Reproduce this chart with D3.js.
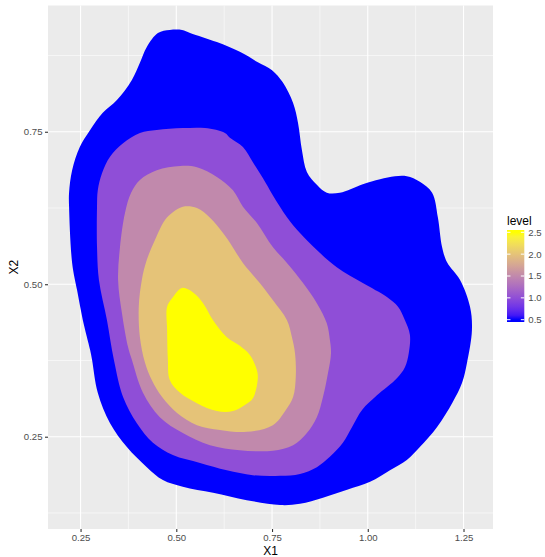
<!DOCTYPE html>
<html>
<head>
<meta charset="utf-8">
<script src="https://cdn.jsdelivr.net/npm/d3@7"></script>
<style>
  html, body { margin: 0; padding: 0; background: #ffffff; }
  svg { display: block; font-family: "Liberation Sans", Arial, Helvetica, sans-serif; }
</style>
</head>
<body>
<svg id="chart" width="545" height="557"></svg>
<script>
// Density contour levels and their polygons, as [X1, X2] vertices
const levels = [0.5, 1.0, 1.5, 2.0, 2.5];

const contour05 = [
  [0.515,0.917],[0.536,0.912],[0.606,0.897],[0.666,0.881],[0.713,0.864],[0.750,0.851],
  [0.778,0.831],[0.805,0.797],[0.818,0.764],[0.828,0.720],[0.841,0.684],[0.867,0.663],
  [0.893,0.650],[0.927,0.650],[0.987,0.664],[1.032,0.672],[1.071,0.677],[1.102,0.677],
  [1.136,0.668],[1.168,0.650],[1.183,0.610],[1.194,0.561],[1.207,0.536],[1.241,0.507],
  [1.267,0.463],[1.272,0.425],[1.259,0.371],[1.246,0.338],[1.222,0.307],[1.181,0.266],
  [1.136,0.233],[1.102,0.212],[1.058,0.195],[1.006,0.176],[0.946,0.163],[0.883,0.150],
  [0.823,0.140],[0.771,0.138],[0.684,0.146],[0.596,0.158],[0.517,0.168],[0.465,0.179],
  [0.423,0.200],[0.371,0.233],[0.327,0.272],[0.295,0.322],[0.280,0.376],[0.275,0.392],
  [0.256,0.441],[0.241,0.490],[0.228,0.535],[0.220,0.627],[0.220,0.650],[0.228,0.687],
  [0.248,0.725],[0.275,0.753],[0.308,0.781],[0.345,0.802],[0.384,0.835],[0.405,0.863],
  [0.423,0.889],[0.452,0.912],[0.483,0.917]
];

const contour10 = [
  [0.640,0.740],[0.674,0.725],[0.700,0.700],[0.726,0.674],[0.752,0.646],[0.789,0.610],
  [0.823,0.584],[0.867,0.556],[0.919,0.528],[0.987,0.502],[1.050,0.479],[1.079,0.463],
  [1.097,0.441],[1.110,0.417],[1.107,0.387],[1.097,0.364],[1.076,0.346],[1.024,0.318],
  [0.985,0.294],[0.959,0.266],[0.935,0.240],[0.901,0.217],[0.867,0.200],[0.823,0.189],
  [0.771,0.186],[0.700,0.187],[0.632,0.195],[0.562,0.207],[0.491,0.220],[0.439,0.240],
  [0.397,0.272],[0.361,0.315],[0.337,0.376],[0.319,0.441],[0.298,0.507],[0.293,0.561],
  [0.293,0.627],[0.295,0.654],[0.306,0.682],[0.327,0.709],[0.361,0.731],[0.405,0.748],
  [0.449,0.753],[0.517,0.756],[0.575,0.756],[0.627,0.748]
];

const contour15 = [
  [0.510,0.694],[0.554,0.692],[0.606,0.676],[0.648,0.654],[0.674,0.627],[0.711,0.600],
  [0.752,0.561],[0.789,0.535],[0.831,0.502],[0.867,0.469],[0.893,0.436],[0.901,0.409],
  [0.904,0.387],[0.896,0.354],[0.883,0.315],[0.867,0.282],[0.841,0.256],[0.805,0.236],
  [0.752,0.227],[0.666,0.228],[0.588,0.236],[0.517,0.256],[0.457,0.282],[0.413,0.322],
  [0.384,0.376],[0.374,0.397],[0.358,0.453],[0.348,0.507],[0.353,0.561],[0.366,0.617],
  [0.382,0.650],[0.405,0.671],[0.449,0.687]
];

const contour20 = [
  [0.491,0.618],[0.517,0.627],[0.554,0.625],[0.588,0.609],[0.622,0.584],[0.640,0.568],
  [0.674,0.535],[0.718,0.502],[0.752,0.474],[0.789,0.441],[0.802,0.413],[0.810,0.387],
  [0.812,0.348],[0.805,0.315],[0.786,0.294],[0.752,0.269],[0.684,0.258],[0.614,0.261],
  [0.554,0.269],[0.502,0.289],[0.463,0.315],[0.436,0.343],[0.418,0.372],[0.405,0.413],
  [0.402,0.463],[0.410,0.507],[0.423,0.540],[0.444,0.572],[0.470,0.605]
];

const contour25 = [
  [0.515,0.494],[0.543,0.487],[0.570,0.469],[0.596,0.441],[0.632,0.413],[0.666,0.399],
  [0.692,0.384],[0.708,0.364],[0.713,0.348],[0.700,0.313],[0.679,0.302],[0.648,0.292],
  [0.606,0.292],[0.554,0.305],[0.510,0.322],[0.483,0.343],[0.478,0.376],[0.476,0.425],
  [0.476,0.463],[0.489,0.477]
];

const contours = [contour05, contour10, contour15, contour20, contour25];

// Axis ticks and labels
const xTicks = [0.25, 0.50, 0.75, 1.00, 1.25];
const xMinor = [0.375, 0.625, 0.875, 1.125];
const yTicks = [0.25, 0.50, 0.75];
const yMinor = [0.125, 0.375, 0.625, 0.875];
const legendTicks = [0.5, 1.0, 1.5, 2.0, 2.5];
const xDomain = [0.165, 1.327];
const yDomain = [0.0987, 0.957];

const svg = d3.select("#chart");
const panel = { left: 48, right: 493, top: 5.5, bottom: 529 };

const x = d3.scaleLinear().domain(xDomain).range([panel.left, panel.right]);
const y = d3.scaleLinear().domain(yDomain).range([panel.bottom, panel.top]);
const fill = d3.scaleLinear()
  .domain([levels[0], levels[levels.length - 1]])
  .range(["#0000FF", "#FFFF00"])
  .interpolate(d3.interpolateLab);

// Panel background and grid
svg.append("rect")
  .attr("x", panel.left).attr("y", panel.top)
  .attr("width", panel.right - panel.left).attr("height", panel.bottom - panel.top)
  .attr("fill", "#EBEBEB");

const grid = svg.append("g");
grid.selectAll(".xminor").data(xMinor).join("line")
  .attr("x1", d => x(d)).attr("x2", d => x(d))
  .attr("y1", panel.top).attr("y2", panel.bottom)
  .attr("stroke", "#ffffff").attr("stroke-width", 0.55);
grid.selectAll(".yminor").data(yMinor).join("line")
  .attr("y1", d => y(d)).attr("y2", d => y(d))
  .attr("x1", panel.left).attr("x2", panel.right)
  .attr("stroke", "#ffffff").attr("stroke-width", 0.55);
grid.selectAll(".xmajor").data(xTicks).join("line")
  .attr("x1", d => x(d)).attr("x2", d => x(d))
  .attr("y1", panel.top).attr("y2", panel.bottom)
  .attr("stroke", "#ffffff").attr("stroke-width", 1.1);
grid.selectAll(".ymajor").data(yTicks).join("line")
  .attr("y1", d => y(d)).attr("y2", d => y(d))
  .attr("x1", panel.left).attr("x2", panel.right)
  .attr("stroke", "#ffffff").attr("stroke-width", 1.1);

// Filled density contours, lowest level first
svg.append("clipPath").attr("id", "panel-clip")
  .append("rect")
  .attr("x", panel.left).attr("y", panel.top)
  .attr("width", panel.right - panel.left).attr("height", panel.bottom - panel.top);

const line = d3.line()
  .x(d => x(d[0]))
  .y(d => y(d[1]))
  .curve(d3.curveCatmullRomClosed.alpha(0.5));

svg.append("g").attr("clip-path", "url(#panel-clip)")
  .selectAll("path")
  .data(contours.map((pts, i) => ({ level: levels[i], pts })))
  .join("path")
  .attr("d", d => line(d.pts))
  .attr("fill", d => fill(d.level));

// Axes
const xAxis = d3.axisBottom(x).tickValues(xTicks).tickFormat(d3.format(".2f"))
  .tickSizeOuter(0).tickSizeInner(3).tickPadding(2.5);
const yAxis = d3.axisLeft(y).tickValues(yTicks).tickFormat(d3.format(".2f"))
  .tickSizeOuter(0).tickSizeInner(3).tickPadding(2.5);

const gx = svg.append("g").attr("transform", `translate(0,${panel.bottom})`).call(xAxis);
const gy = svg.append("g").attr("transform", `translate(${panel.left},0)`).call(yAxis);
[gx, gy].forEach(g => {
  g.select(".domain").remove();
  g.selectAll(".tick line").attr("stroke", "#333333").attr("stroke-width", 1.1);
  g.selectAll(".tick text").attr("fill", "#4D4D4D")
    .style("font-size", "9.6px").style("font-family", "Liberation Sans, Arial, sans-serif");
});

svg.append("text")
  .attr("x", (panel.left + panel.right) / 2).attr("y", 555)
  .attr("text-anchor", "middle").attr("fill", "#000000")
  .style("font-size", "12px").text("X1");

svg.append("text")
  .attr("transform", `translate(17.5,${(panel.top + panel.bottom) / 2}) rotate(-90)`)
  .attr("text-anchor", "middle").attr("fill", "#000000")
  .style("font-size", "12px").text("X2");

// Colour bar legend
const bar = { left: 507, width: 17.3, top: 230, height: 92 };
const nbin = 20;
const legendY = d3.scaleLinear()
  .domain([levels[0], levels[levels.length - 1]])
  .range([bar.top + bar.height - bar.height / nbin / 2, bar.top + bar.height / nbin / 2]);

const defs = svg.append("defs");
const grad = defs.append("linearGradient").attr("id", "level-grad")
  .attr("x1", 0).attr("y1", 1).attr("x2", 0).attr("y2", 0);
d3.range(0, 21).forEach(i => {
  const v = levels[0] + (levels[levels.length - 1] - levels[0]) * i / 20;
  const off = (bar.top + bar.height - legendY(v)) / bar.height;
  grad.append("stop").attr("offset", off).attr("stop-color", fill(v));
});

svg.append("text")
  .attr("x", bar.left).attr("y", 225)
  .attr("fill", "#000000").style("font-size", "12px").text("level");

svg.append("rect")
  .attr("x", bar.left).attr("y", bar.top)
  .attr("width", bar.width).attr("height", bar.height)
  .attr("fill", "url(#level-grad)");

const lt = svg.append("g");
lt.selectAll(".tl").data(legendTicks).join("line")
  .attr("x1", bar.left).attr("x2", bar.left + bar.width / 5)
  .attr("y1", d => legendY(d)).attr("y2", d => legendY(d))
  .attr("stroke", "#ffffff").attr("stroke-width", 1);
lt.selectAll(".tr").data(legendTicks).join("line")
  .attr("x1", bar.left + bar.width * 4 / 5).attr("x2", bar.left + bar.width)
  .attr("y1", d => legendY(d)).attr("y2", d => legendY(d))
  .attr("stroke", "#ffffff").attr("stroke-width", 1);
lt.selectAll("text").data(legendTicks).join("text")
  .attr("x", bar.left + bar.width + 4)
  .attr("y", d => legendY(d))
  .attr("dy", "0.35em")
  .attr("fill", "#4D4D4D").style("font-size", "9.6px")
  .text(d3.format(".1f"));
</script>
</body>
</html>
